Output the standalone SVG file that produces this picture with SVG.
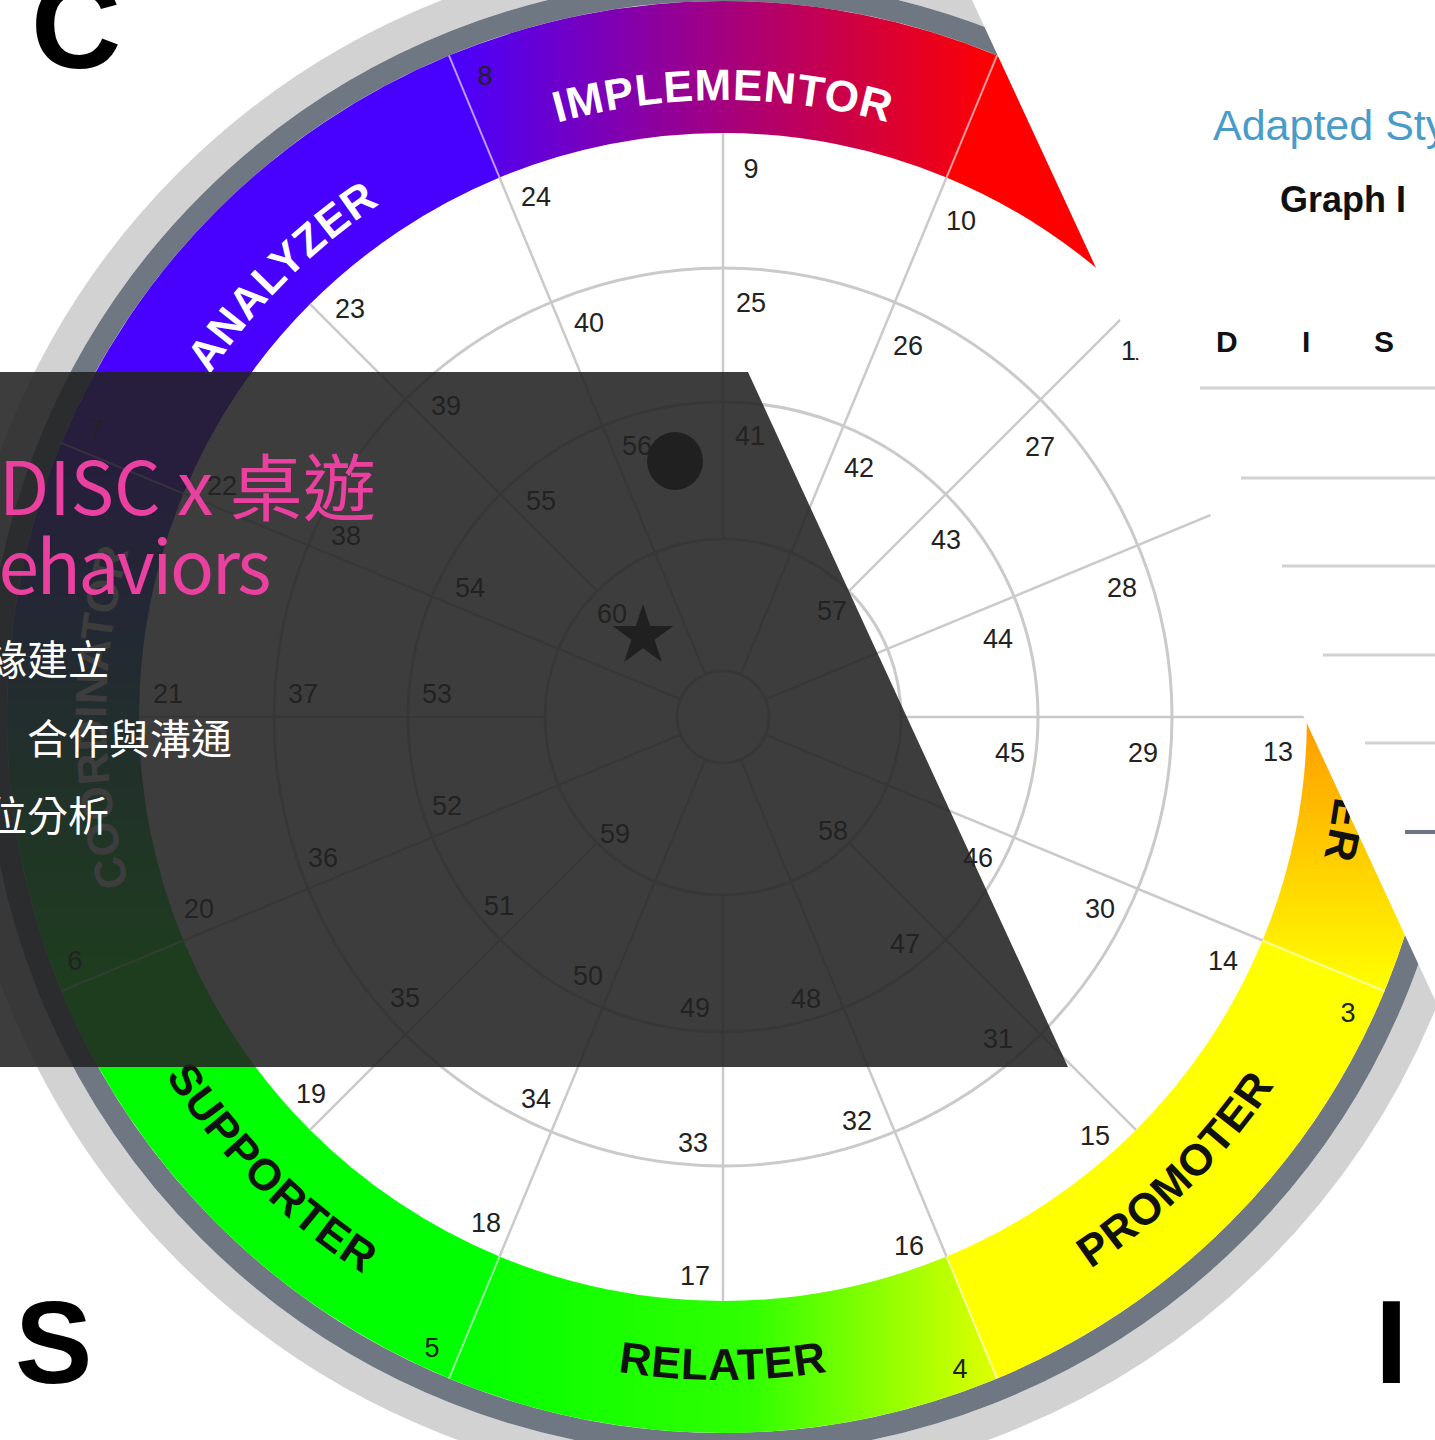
<svg xmlns="http://www.w3.org/2000/svg" width="1435" height="1440" viewBox="0 0 1435 1440">
<defs>
<style>
.num{font-family:"Liberation Sans",Arial,sans-serif;font-size:27px;fill:#222;text-anchor:middle}
.bl{font-family:"Liberation Sans",Arial,sans-serif;font-size:44px;font-weight:bold;letter-spacing:1px}
.ring{fill:none;stroke:#cacaca;stroke-width:3}
.rad{stroke:#cacaca;stroke-width:2.5}
.bnd{stroke:#ffffff;stroke-opacity:0.55;stroke-width:2}
.big{font-family:"Liberation Sans",Arial,sans-serif;font-weight:bold;fill:#000}
.pink{font-family:"Noto Sans CJK TC","Noto Sans",sans-serif;font-size:73px;fill:#ea409f}
.wt{font-family:"Noto Sans CJK TC",sans-serif;font-size:41px;fill:#ffffff}
.rule{stroke:#d2d2d2;stroke-width:3}
</style>
<linearGradient id="gTop" gradientUnits="userSpaceOnUse" x1="449" y1="0" x2="997" y2="0"><stop offset="0" stop-color="#4800ff"/><stop offset="1" stop-color="#ff0000"/></linearGradient>
<linearGradient id="gE" gradientUnits="userSpaceOnUse" x1="0" y1="443" x2="0" y2="991"><stop offset="0" stop-color="#ff0000"/><stop offset="0.5" stop-color="#ff9a00"/><stop offset="1" stop-color="#ffff00"/></linearGradient>
<linearGradient id="gS" gradientUnits="userSpaceOnUse" x1="449" y1="0" x2="997" y2="0"><stop offset="0" stop-color="#00ff00"/><stop offset="0.55" stop-color="#30ff00"/><stop offset="1" stop-color="#e0ff00"/></linearGradient>
<linearGradient id="gW" gradientUnits="userSpaceOnUse" x1="0" y1="443" x2="0" y2="991"><stop offset="0" stop-color="#4800ff"/><stop offset="1" stop-color="#00ff00"/></linearGradient>
<path id="rl" d="M723,539 V133"/>
<path id="il" d="M723,671 V539"/>
<path id="aImp" d="M188.7,408.5 A617,617 0 0 1 1257.3,408.5"/>
<path id="aAna" d="M127,876.7 A617,617 0 0 1 882.7,121"/>
<path id="aCoo" d="M414.5,1251.3 A617,617 0 0 1 414.5,182.7"/>
<path id="aPer" d="M1031.5,182.7 A617,617 0 0 1 1031.5,1251.3"/>
<path id="aRel" d="M148.8,1048.5 A663,663 0 0 0 1297.2,1048.5"/>
<path id="aSup" d="M82.6,545.4 A663,663 0 0 0 894.6,1357.4"/>
<path id="aPro" d="M551.4,1357.4 A663,663 0 0 0 1363.4,545.4"/>
</defs>
<rect width="1435" height="1440" fill="#ffffff"/>

<g id="wheel">
  <g id="outer-rings">
    <circle cx="723" cy="717" r="754" fill="none" stroke="#d2d2d2" stroke-width="32"/>
    <circle cx="723" cy="717" r="727" fill="none" stroke="#6f7782" stroke-width="22"/>
  </g>
  <g id="band">
    <path d="M449,55.5 A716,716 0 0 1 997,55.5 L946.5,177.5 A584,584 0 0 0 499.5,177.5 Z" fill="url(#gTop)"/>
    <path d="M997,55.5 A716,716 0 0 1 1384.5,443 L1262.5,493.5 A584,584 0 0 0 946.5,177.5 Z" fill="#ff0000"/>
    <path d="M1384.5,443 A716,716 0 0 1 1384.5,991 L1262.5,940.5 A584,584 0 0 0 1262.5,493.5 Z" fill="url(#gE)"/>
    <path d="M1384.5,991 A716,716 0 0 1 997,1378.5 L946.5,1256.5 A584,584 0 0 0 1262.5,940.5 Z" fill="#ffff00"/>
    <path d="M997,1378.5 A716,716 0 0 1 449,1378.5 L499.5,1256.5 A584,584 0 0 0 946.5,1256.5 Z" fill="url(#gS)"/>
    <path d="M449,1378.5 A716,716 0 0 1 61.5,991 L183.5,940.5 A584,584 0 0 0 499.5,1256.5 Z" fill="#00ff00"/>
    <path d="M61.5,991 A716,716 0 0 1 61.5,443 L183.5,493.5 A584,584 0 0 0 183.5,940.5 Z" fill="url(#gW)"/>
    <path d="M61.5,443 A716,716 0 0 1 449,55.5 L499.5,177.5 A584,584 0 0 0 183.5,493.5 Z" fill="#4800ff"/>
    <g class="bnd">
      <line x1="946.5" y1="177.5" x2="997" y2="55.5"/>
      <line x1="1262.5" y1="493.5" x2="1384.5" y2="443"/>
      <line x1="1262.5" y1="940.5" x2="1384.5" y2="991"/>
      <line x1="946.5" y1="1256.5" x2="997" y2="1378.5"/>
      <line x1="499.5" y1="1256.5" x2="449" y2="1378.5"/>
      <line x1="183.5" y1="940.5" x2="61.5" y2="991"/>
      <line x1="183.5" y1="493.5" x2="61.5" y2="443"/>
      <line x1="499.5" y1="177.5" x2="449" y2="55.5"/>
    </g>
    <g class="bl">
      <text fill="#ffffff" text-anchor="middle"><textPath href="#aImp" startOffset="50%">IMPLEMENTOR</textPath></text>
      <text fill="#ffffff" text-anchor="middle"><textPath href="#aAna" startOffset="50%">ANALYZER</textPath></text>
      <text fill="#ffffff" text-anchor="middle"><textPath href="#aCoo" startOffset="50%">COORDINATOR</textPath></text>
      <text fill="#111" text-anchor="middle"><textPath href="#aPer" startOffset="50%">PERSUADER</textPath></text>
      <text fill="#111" text-anchor="middle"><textPath href="#aRel" startOffset="50%">RELATER</textPath></text>
      <text fill="#111" text-anchor="middle"><textPath href="#aSup" startOffset="50%">SUPPORTER</textPath></text>
      <text fill="#111" text-anchor="middle"><textPath href="#aPro" startOffset="50%">PROMOTER</textPath></text>
    </g>
  </g>
  <g id="grid">
    <circle class="ring" cx="723" cy="717" r="46"/>
    <circle class="ring" cx="723" cy="717" r="178"/>
    <circle class="ring" cx="723" cy="717" r="315"/>
    <circle class="ring" cx="723" cy="717" r="449"/>
    <g class="rad">
      <use href="#rl"/>
      <use href="#rl" transform="rotate(22.5 723 717)"/>
      <use href="#rl" transform="rotate(45 723 717)"/>
      <use href="#rl" transform="rotate(67.5 723 717)"/>
      <use href="#rl" transform="rotate(90 723 717)"/>
      <use href="#rl" transform="rotate(112.5 723 717)"/>
      <use href="#rl" transform="rotate(135 723 717)"/>
      <use href="#rl" transform="rotate(157.5 723 717)"/>
      <use href="#rl" transform="rotate(180 723 717)"/>
      <use href="#rl" transform="rotate(202.5 723 717)"/>
      <use href="#rl" transform="rotate(225 723 717)"/>
      <use href="#rl" transform="rotate(247.5 723 717)"/>
      <use href="#rl" transform="rotate(270 723 717)"/>
      <use href="#rl" transform="rotate(292.5 723 717)"/>
      <use href="#rl" transform="rotate(315 723 717)"/>
      <use href="#rl" transform="rotate(337.5 723 717)"/>
      <use href="#il" transform="rotate(22.5 723 717)"/>
      <use href="#il" transform="rotate(67.5 723 717)"/>
      <use href="#il" transform="rotate(112.5 723 717)"/>
      <use href="#il" transform="rotate(157.5 723 717)"/>
      <use href="#il" transform="rotate(202.5 723 717)"/>
      <use href="#il" transform="rotate(247.5 723 717)"/>
      <use href="#il" transform="rotate(292.5 723 717)"/>
      <use href="#il" transform="rotate(337.5 723 717)"/>
    </g>
  </g>
  <g id="numbers" class="num">
    <text x="485" y="85">8</text>
    <text x="1348" y="1022">3</text>
    <text x="960" y="1378">4</text>
    <text x="432" y="1357">5</text>
    <text x="75" y="970">6</text>
    <text x="96" y="439">7</text>
    <text x="751" y="178">9</text>
    <text x="961" y="230">10</text>
    <text x="1135" y="360">11</text>
    <text x="1278" y="761">13</text>
    <text x="1223" y="970">14</text>
    <text x="1095" y="1145">15</text>
    <text x="909" y="1255">16</text>
    <text x="695" y="1285">17</text>
    <text x="486" y="1232">18</text>
    <text x="311" y="1103">19</text>
    <text x="199" y="918">20</text>
    <text x="168" y="703">21</text>
    <text x="222" y="495">22</text>
    <text x="350" y="318">23</text>
    <text x="536" y="206">24</text>
    <text x="751" y="312">25</text>
    <text x="908" y="355">26</text>
    <text x="1040" y="456">27</text>
    <text x="1122" y="597">28</text>
    <text x="1143" y="762">29</text>
    <text x="1100" y="918">30</text>
    <text x="998" y="1048">31</text>
    <text x="857" y="1130">32</text>
    <text x="693" y="1152">33</text>
    <text x="536" y="1108">34</text>
    <text x="405" y="1007">35</text>
    <text x="323" y="867">36</text>
    <text x="303" y="703">37</text>
    <text x="346" y="545">38</text>
    <text x="446" y="415">39</text>
    <text x="589" y="332">40</text>
    <text x="750" y="445">41</text>
    <text x="859" y="477">42</text>
    <text x="946" y="549">43</text>
    <text x="998" y="648">44</text>
    <text x="1010" y="762">45</text>
    <text x="978" y="867">46</text>
    <text x="905" y="953">47</text>
    <text x="806" y="1008">48</text>
    <text x="695" y="1017">49</text>
    <text x="588" y="985">50</text>
    <text x="499" y="915">51</text>
    <text x="447" y="815">52</text>
    <text x="437" y="703">53</text>
    <text x="470" y="597">54</text>
    <text x="541" y="510">55</text>
    <text x="637" y="455">56</text>
    <text x="832" y="620">57</text>
    <text x="833" y="840">58</text>
    <text x="615" y="843">59</text>
    <text x="612" y="623">60</text>
  </g>
  <g id="markers">
    <ellipse cx="675" cy="461" rx="28" ry="29" fill="#141414"/>
    <polygon points="643,604 650.2,626.1 673.4,626.1 654.6,639.8 661.8,661.9 643,648.2 624.2,661.9 631.4,639.8 612.6,626.1 635.8,626.1" fill="#141414"/>
  </g>
</g>

<g id="panel">
  <polygon points="972,0 1435,0 1435,1000" fill="#ffffff"/>
  <text x="1213" y="140" font-family="Liberation Sans, Arial, sans-serif" font-size="43" fill="#4a9cc8">Adapted Sty</text>
  <text x="1280" y="212" font-family="Liberation Sans, Arial, sans-serif" font-size="36" font-weight="bold" fill="#111">Graph I</text>
  <g font-family="Liberation Sans, Arial, sans-serif" font-size="30" font-weight="bold" fill="#111">
    <text x="1216" y="352">D</text>
    <text x="1302" y="352">I</text>
    <text x="1374" y="352">S</text>
  </g>
  <line class="rule" x1="1200" y1="388" x2="1435" y2="388"/>
  <line class="rule" x1="1241" y1="478" x2="1435" y2="478"/>
  <line class="rule" x1="1282" y1="566" x2="1435" y2="566"/>
  <line class="rule" x1="1323" y1="655" x2="1435" y2="655"/>
  <line class="rule" x1="1365" y1="743" x2="1435" y2="743"/>
  <line x1="1405" y1="832" x2="1435" y2="832" stroke="#6b7585" stroke-width="4"/>
</g>

<g id="overlay">
  <polygon points="0,372 748,372 1068,1067 0,1067" fill="#222222" fill-opacity="0.88"/>
  <text class="pink" x="-1" y="515">DISC x 桌遊</text>
  <text class="pink" x="-47" y="594" letter-spacing="-2.5">Behaviors</text>
  <text class="wt" x="-14" y="675">緣建立</text>
  <text class="wt" x="27" y="754">合作與溝通</text>
  <text class="wt" x="-14" y="831">位分析</text>
</g>

<g id="corner-letters">
  <text class="big" x="31" y="68" font-size="125">C</text>
  <text class="big" x="15" y="1383" font-size="116">S</text>
  <text class="big" x="1375" y="1383" font-size="118">I</text>
</g>
</svg>
